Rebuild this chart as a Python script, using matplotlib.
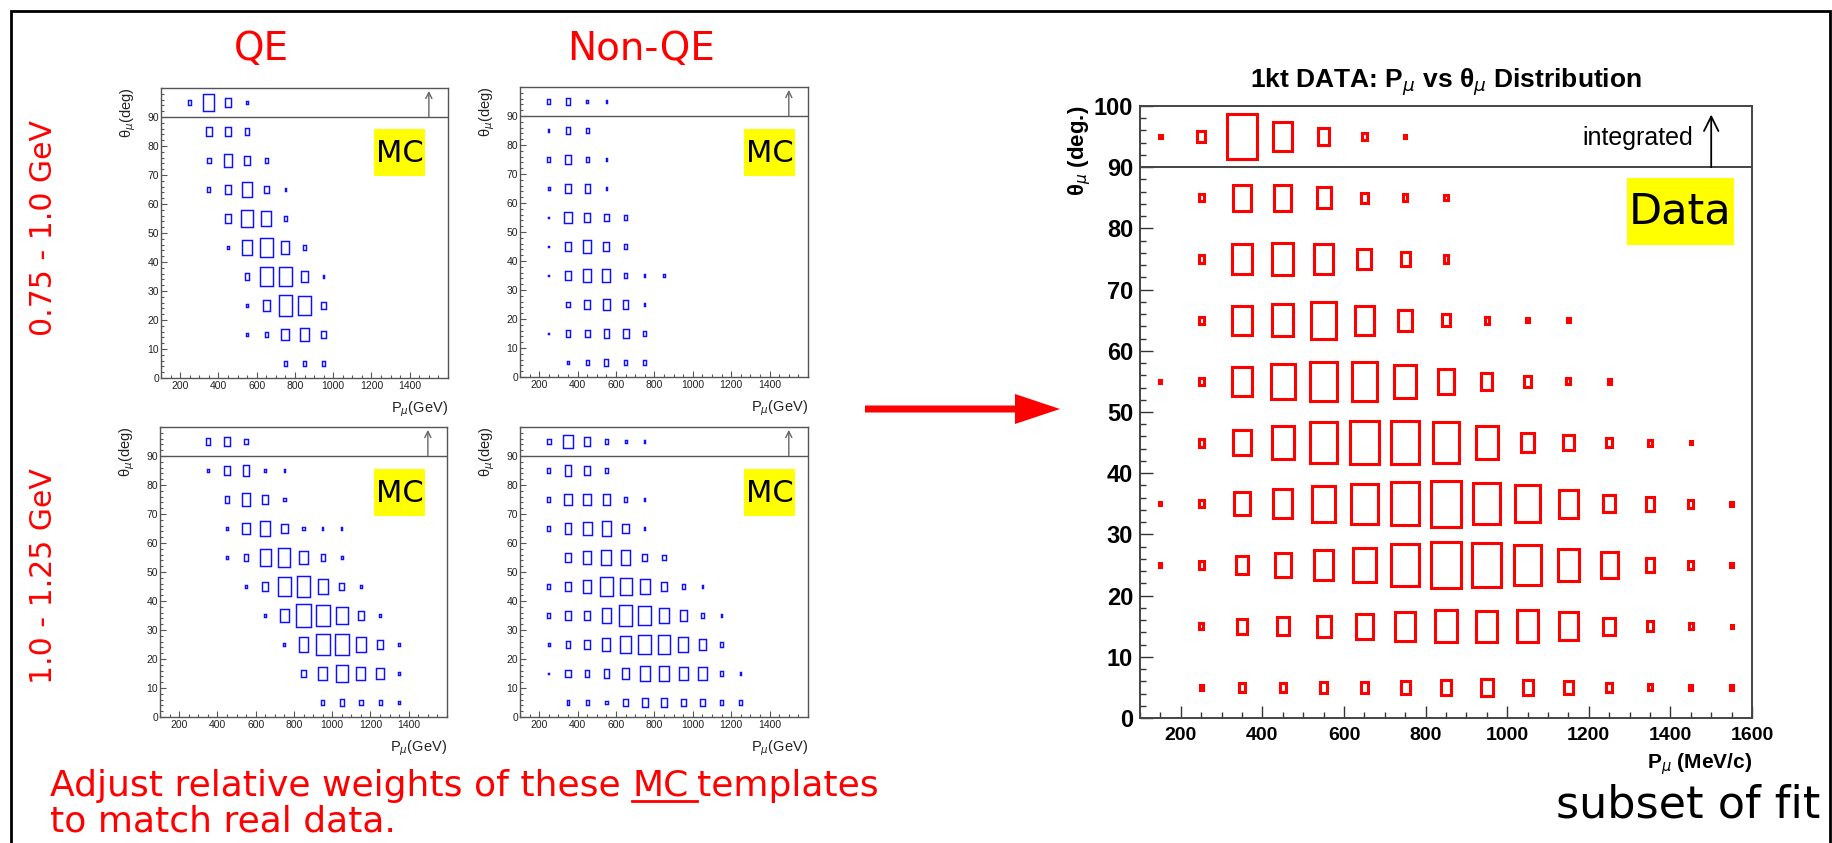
import matplotlib
matplotlib.use("Agg")
import matplotlib.pyplot as plt
from matplotlib.patches import Rectangle, FancyArrow
from matplotlib.ticker import MultipleLocator

W, H = 1833, 843
DPI = 100

# ---------------- data (relative box size = fraction of the bin) ----------------
p_centers = [150, 250, 350, 450, 550, 650, 750, 850, 950, 1050, 1150, 1250, 1350, 1450, 1550]
theta_centers = [95, 85, 75, 65, 55, 45, 35, 25, 15, 5]

qe_low = [
    [0, 0.14, 0.59, 0.29, 0.09, 0, 0, 0, 0, 0, 0, 0, 0, 0, 0],
    [0, 0, 0.30, 0.29, 0.21, 0, 0, 0, 0, 0, 0, 0, 0, 0, 0],
    [0, 0, 0.20, 0.45, 0.32, 0.14, 0, 0, 0, 0, 0, 0, 0, 0, 0],
    [0, 0, 0.14, 0.34, 0.54, 0.25, 0.09, 0, 0, 0, 0, 0, 0, 0, 0],
    [0, 0, 0, 0.29, 0.60, 0.50, 0.18, 0, 0, 0, 0, 0, 0, 0, 0],
    [0, 0, 0, 0.09, 0.50, 0.68, 0.43, 0.14, 0, 0, 0, 0, 0, 0, 0],
    [0, 0, 0, 0, 0.25, 0.66, 0.68, 0.36, 0.09, 0, 0, 0, 0, 0, 0],
    [0, 0, 0, 0, 0.09, 0.38, 0.70, 0.63, 0.27, 0, 0, 0, 0, 0, 0],
    [0, 0, 0, 0, 0.09, 0.18, 0.41, 0.46, 0.27, 0, 0, 0, 0, 0, 0],
    [0, 0, 0, 0, 0, 0, 0.16, 0.20, 0.16, 0, 0, 0, 0, 0, 0],
]

nonqe_low = [
    [0, 0.16, 0.23, 0.09, 0.07, 0, 0, 0, 0, 0, 0, 0, 0, 0, 0],
    [0, 0.07, 0.25, 0.14, 0, 0, 0, 0, 0, 0, 0, 0, 0, 0, 0],
    [0, 0.14, 0.32, 0.16, 0.07, 0, 0, 0, 0, 0, 0, 0, 0, 0, 0],
    [0, 0.12, 0.32, 0.28, 0.09, 0, 0, 0, 0, 0, 0, 0, 0, 0, 0],
    [0, 0.05, 0.39, 0.34, 0.25, 0.14, 0, 0, 0, 0, 0, 0, 0, 0, 0],
    [0, 0.05, 0.34, 0.42, 0.32, 0.16, 0, 0, 0, 0, 0, 0, 0, 0, 0],
    [0, 0.05, 0.32, 0.42, 0.42, 0.16, 0.07, 0.07, 0, 0, 0, 0, 0, 0, 0],
    [0, 0, 0.20, 0.34, 0.35, 0.28, 0.07, 0, 0, 0, 0, 0, 0, 0, 0],
    [0, 0.05, 0.21, 0.27, 0.28, 0.32, 0.16, 0, 0, 0, 0, 0, 0, 0, 0],
    [0, 0, 0.12, 0.16, 0.21, 0.16, 0.14, 0, 0, 0, 0, 0, 0, 0, 0],
]

qe_high = [
    [0, 0, 0.21, 0.30, 0.19, 0, 0, 0, 0, 0, 0, 0, 0, 0, 0],
    [0, 0, 0.07, 0.28, 0.35, 0.12, 0.09, 0, 0, 0, 0, 0, 0, 0, 0],
    [0, 0, 0, 0.23, 0.42, 0.32, 0.12, 0, 0, 0, 0, 0, 0, 0, 0],
    [0, 0, 0, 0.12, 0.40, 0.53, 0.33, 0.12, 0.07, 0.07, 0, 0, 0, 0, 0],
    [0, 0, 0, 0.07, 0.23, 0.58, 0.63, 0.44, 0.21, 0.09, 0, 0, 0, 0, 0],
    [0, 0, 0, 0, 0.09, 0.30, 0.65, 0.70, 0.51, 0.26, 0.12, 0, 0, 0, 0],
    [0, 0, 0, 0, 0, 0.12, 0.44, 0.77, 0.72, 0.60, 0.28, 0.10, 0, 0, 0],
    [0, 0, 0, 0, 0, 0, 0.10, 0.49, 0.74, 0.74, 0.51, 0.33, 0.09, 0, 0],
    [0, 0, 0, 0, 0, 0, 0, 0.21, 0.46, 0.60, 0.46, 0.37, 0.12, 0, 0],
    [0, 0, 0, 0, 0, 0, 0, 0, 0.18, 0.21, 0.18, 0.16, 0.09, 0, 0],
]

nonqe_high = [
    [0, 0.18, 0.48, 0.30, 0.14, 0.10, 0.07, 0, 0, 0, 0, 0, 0, 0, 0],
    [0, 0.14, 0.35, 0.32, 0.19, 0, 0, 0, 0, 0, 0, 0, 0, 0, 0],
    [0, 0.14, 0.39, 0.40, 0.35, 0.16, 0.07, 0, 0, 0, 0, 0, 0, 0, 0],
    [0, 0.14, 0.35, 0.46, 0.50, 0.34, 0.07, 0, 0, 0, 0, 0, 0, 0, 0],
    [0, 0, 0.32, 0.44, 0.53, 0.51, 0.25, 0.18, 0, 0, 0, 0, 0, 0, 0],
    [0, 0.14, 0.32, 0.44, 0.65, 0.62, 0.50, 0.28, 0.16, 0.07, 0, 0, 0, 0, 0],
    [0, 0.14, 0.30, 0.34, 0.51, 0.69, 0.67, 0.51, 0.35, 0.19, 0.09, 0, 0, 0, 0],
    [0, 0.09, 0.23, 0.34, 0.42, 0.60, 0.67, 0.64, 0.55, 0.35, 0.14, 0, 0, 0, 0],
    [0, 0.05, 0.27, 0.23, 0.28, 0.37, 0.50, 0.53, 0.46, 0.44, 0.19, 0.07, 0, 0, 0],
    [0, 0, 0.14, 0.14, 0.12, 0.23, 0.30, 0.30, 0.27, 0.23, 0.18, 0.14, 0, 0, 0],
]

data_1kt = [
    [0.06, 0.19, 0.73, 0.475, 0.27, 0.11, 0.06, 0, 0, 0, 0, 0, 0, 0, 0],
    [0, 0.12, 0.43, 0.42, 0.34, 0.17, 0.11, 0.08, 0, 0, 0, 0, 0, 0, 0],
    [0, 0.12, 0.50, 0.52, 0.48, 0.34, 0.22, 0.12, 0, 0, 0, 0, 0, 0, 0],
    [0, 0.12, 0.48, 0.52, 0.60, 0.48, 0.34, 0.20, 0.11, 0.07, 0.06, 0, 0, 0, 0],
    [0.05, 0.12, 0.48, 0.58, 0.65, 0.63, 0.54, 0.41, 0.27, 0.17, 0.10, 0.08, 0, 0, 0],
    [0, 0.13, 0.42, 0.55, 0.67, 0.70, 0.70, 0.66, 0.54, 0.32, 0.25, 0.16, 0.10, 0.06, 0],
    [0.05, 0.12, 0.38, 0.47, 0.58, 0.66, 0.70, 0.75, 0.67, 0.61, 0.46, 0.28, 0.22, 0.13, 0.07],
    [0.05, 0.12, 0.31, 0.39, 0.48, 0.57, 0.70, 0.75, 0.72, 0.65, 0.52, 0.41, 0.22, 0.13, 0.07],
    [0, 0.10, 0.25, 0.29, 0.34, 0.41, 0.48, 0.53, 0.51, 0.52, 0.46, 0.28, 0.16, 0.10, 0.05],
    [0, 0.07, 0.16, 0.15, 0.18, 0.17, 0.22, 0.25, 0.29, 0.25, 0.21, 0.16, 0.10, 0.07, 0.07],
]

mc_xticks = [200, 400, 600, 800, 1000, 1200, 1400]
mc_yticks = [0, 10, 20, 30, 40, 50, 60, 70, 80, 90]
data_xticks = [200, 400, 600, 800, 1000, 1200, 1400, 1600]
data_yticks = [0, 10, 20, 30, 40, 50, 60, 70, 80, 90, 100]
P_BIN, T_BIN = 100, 10

SLIDE_FONT = "DejaVu Sans"
ROOT_FONT = "Liberation Sans"

fig = plt.figure(figsize=(W / DPI, H / DPI), dpi=DPI)
fig.patch.set_facecolor("white")


def add_ax_px(x0, y0, x1, y1):
    return fig.add_axes([x0 / W, 1 - y1 / H, (x1 - x0) / W, (y1 - y0) / H])


def draw_boxes(ax, vals, color, lw):
    for th, row in zip(theta_centers, vals):
        for p, s in zip(p_centers, row):
            if s > 0:
                w, h = s * P_BIN, s * T_BIN
                ax.add_patch(Rectangle((p - w / 2, th - h / 2), w, h, fill=False,
                                       edgecolor=color, linewidth=lw))


def setup_mc(ax, vals):
    ax.set_xlim(100, 1600)
    ax.set_ylim(0, 100)
    ax.set_xticks(mc_xticks)
    ax.set_yticks(mc_yticks)
    ax.xaxis.set_minor_locator(MultipleLocator(50))
    ax.yaxis.set_minor_locator(MultipleLocator(2))
    ax.tick_params(which="both", direction="in", color="#555555", width=0.8,
                   labelsize=7.5, labelcolor="#222222")
    ax.tick_params(which="major", length=4)
    ax.tick_params(which="minor", length=2)
    ax.tick_params(axis="x", pad=2.5)
    ax.tick_params(axis="y", pad=1.5)
    for lab in ax.get_xticklabels() + ax.get_yticklabels():
        lab.set_family(ROOT_FONT)
    for sp in ax.spines.values():
        sp.set_color("#555555")
        sp.set_linewidth(1.0)
    ax.axhline(90, color="#555555", lw=1.0)
    ax.annotate("", xy=(1500, 99), xytext=(1500, 90),
                arrowprops=dict(arrowstyle="->", color="#666666", lw=1.0,
                                mutation_scale=11, shrinkA=0, shrinkB=0))
    draw_boxes(ax, vals, "#1010ff", 1.05)
    ax.text(-0.115, 1.0, "θ$_{\\mu}$(deg)", transform=ax.transAxes, rotation=90,
            ha="center", va="top", fontsize=10.5, family=ROOT_FONT, color="#222222")
    ax.text(1.0, -0.075, "P$_{\\mu}$(GeV)", transform=ax.transAxes,
            ha="right", va="top", fontsize=10.5, family=ROOT_FONT, color="#222222")


ax_tl = add_ax_px(161, 88, 448, 378)
setup_mc(ax_tl, qe_low)
ax_tr = add_ax_px(520, 87, 808, 377)
setup_mc(ax_tr, nonqe_low)
ax_bl = add_ax_px(160, 427, 447, 717)
setup_mc(ax_bl, qe_high)
ax_br = add_ax_px(520, 427, 808, 717)
setup_mc(ax_br, nonqe_high)

# ---------------- data panel ----------------
ax_d = add_ax_px(1140, 106, 1752, 718)
ax_d.set_xlim(100, 1600)
ax_d.set_ylim(0, 100)
ax_d.set_xticks(data_xticks)
ax_d.set_yticks(data_yticks)
ax_d.xaxis.set_minor_locator(MultipleLocator(50))
ax_d.yaxis.set_minor_locator(MultipleLocator(2))
ax_d.tick_params(which="both", direction="in", color="#333333", width=1.0)
ax_d.tick_params(which="major", length=9)
ax_d.tick_params(which="minor", length=4.5)
ax_d.tick_params(axis="x", labelsize=14, pad=6.5)
ax_d.tick_params(axis="y", labelsize=17, pad=5)
for lab in ax_d.get_xticklabels() + ax_d.get_yticklabels():
    lab.set_family(ROOT_FONT)
    lab.set_fontweight("bold")
for sp in ax_d.spines.values():
    sp.set_color("#444444")
    sp.set_linewidth(1.4)
ax_d.axhline(90, color="#444444", lw=1.4)
draw_boxes(ax_d, data_1kt, "#ff0000", 2.2)
ax_d.annotate("", xy=(1500, 98.6), xytext=(1500, 90),
              arrowprops=dict(arrowstyle="->", color="black", lw=1.3,
                              mutation_scale=26, shrinkA=0, shrinkB=0))
ax_d.text(1455, 93.6, "integrated", ha="right", va="baseline", fontsize=18,
          family=ROOT_FONT)
ax_d.text(0.5, 1.03, "1kt DATA: P$_{\\mu}$ vs θ$_{\\mu}$ Distribution",
          transform=ax_d.transAxes, ha="center", va="baseline", fontsize=19,
          fontweight="bold", family=ROOT_FONT)
ax_d.text(-0.098, 1.0, "θ$_{\\mu}$ (deg.)", transform=ax_d.transAxes, rotation=90,
          ha="center", va="top", fontsize=16, fontweight="bold", family=ROOT_FONT)
ax_d.text(1.0, -0.055, "P$_{\\mu}$ (MeV/c)", transform=ax_d.transAxes,
          ha="right", va="top", fontsize=15, fontweight="bold", family=ROOT_FONT)

# ---------------- slide overlay ----------------
ov = fig.add_axes([0, 0, 1, 1])
ov.set_xlim(0, W)
ov.set_ylim(H, 0)
ov.axis("off")
ov.patch.set_alpha(0)

# outer frame
ov.plot([11, 11, 1830, 1830], [H + 5, 11, 11, H + 5], color="black", lw=2.0,
        solid_joinstyle="miter")

ov.text(261, 49, "QE", color="red", fontsize=28, ha="center", va="center",
        family=SLIDE_FONT)
ov.text(641, 49, "Non-QE", color="red", fontsize=28, ha="center", va="center",
        family=SLIDE_FONT)
ov.text(44, 228, "0.75 - 1.0 GeV", color="red", fontsize=21.5, rotation=90,
        ha="center", va="center", family=SLIDE_FONT)
ov.text(44, 576, "1.0 - 1.25 GeV", color="red", fontsize=21.5, rotation=90,
        ha="center", va="center", family=SLIDE_FONT)

for (x0, y0) in [(374, 129), (744, 129), (374, 469), (744, 469)]:
    ov.add_patch(Rectangle((x0, y0), 51, 47, facecolor="#ffff00", edgecolor="none"))
    ov.text(x0 + 25.5, y0 + 24, "MC", fontsize=22, ha="center", va="center",
            family=SLIDE_FONT, color="black")

ov.add_patch(Rectangle((1627, 178), 107, 67, facecolor="#ffff00", edgecolor="none"))
ov.text(1680, 212, "Data", fontsize=31, ha="center", va="center",
        family=SLIDE_FONT, color="black")

ov.add_patch(FancyArrow(865, 409, 150, 0, width=7, head_width=30, head_length=45,
                        length_includes_head=False, color="red", lw=0))

FS_NOTE = 26
Y1, Y2 = 796, 831
X0 = 50
fig.canvas.draw()
r = fig.canvas.get_renderer()
pre = ov.text(X0, Y1, "Adjust relative weights of these ", color="red",
              fontsize=FS_NOTE, ha="left", va="baseline", family=SLIDE_FONT)
bb_pre = pre.get_window_extent(r)
x_mc = ov.transData.inverted().transform((bb_pre.x1, 0))[0]
mc = ov.text(x_mc, Y1, "MC", color="red", fontsize=FS_NOTE, ha="left",
             va="baseline", family=SLIDE_FONT)
bb_mc = mc.get_window_extent(r)
x_mc1 = ov.transData.inverted().transform((bb_mc.x1, 0))[0]
ov.plot([x_mc, x_mc1 + 8], [Y1 + 5, Y1 + 5], color="red", lw=2.0)
ov.text(x_mc1 + 8, Y1, "templates", color="red", fontsize=FS_NOTE, ha="left",
        va="baseline", family=SLIDE_FONT)
ov.text(X0, Y2, "to match real data.", color="red", fontsize=FS_NOTE, ha="left",
        va="baseline", family=SLIDE_FONT)

ov.text(1556, 818, "subset of fit", color="black", fontsize=32, ha="left",
        va="baseline", family=SLIDE_FONT)

fig.savefig("out.png", dpi=DPI)
